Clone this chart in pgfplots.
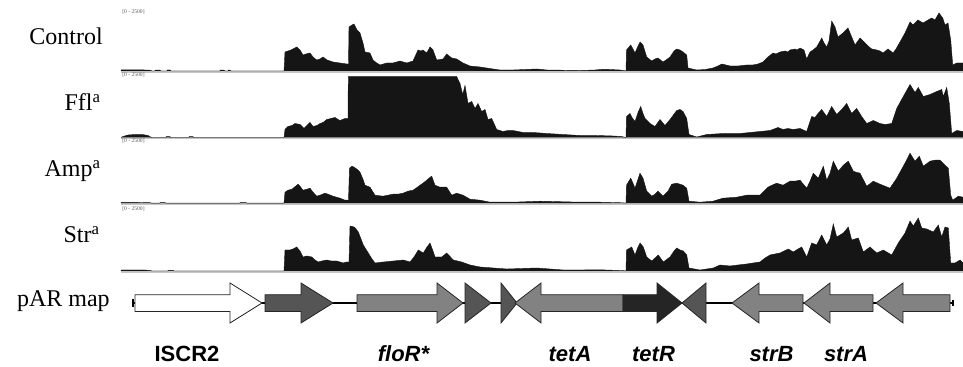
\documentclass[border=0pt]{standalone}
\usepackage{pgfplots}
\usepackage{pgfplotstable}
\pgfplotsset{compat=1.18}
\usepackage{fontspec}
\setmainfont{Liberation Serif}
\newfontfamily\arial{Liberation Sans}
\definecolor{cov}{HTML}{151515}
\definecolor{base}{HTML}{C4C4C4}
\definecolor{gdark}{HTML}{555555}
\definecolor{gmid}{HTML}{828282}
\definecolor{gblack}{HTML}{252525}

% coverage tracks: x = horizontal pixel position, h = depth (62 = 2500)
\pgfplotstableread{
x h
121 0
121 1.2
140 1.2
150 0.8
152 0
155 0
155 0.8
160 0.8
161 0
167 0
167 1
170 1
171 0
220 0
220 0.8
224 0.8
225 0
228 0
228 0.8
230 0.8
231 0
284 0
285 19
288 20
291 21
296.7 24
300 21
303 16
306 17
310 18
313 14
316.7 11
320 12
323 14
327 11
333 9
340 8
346.7 7
348.5 7
349 44
352 46
354 47
357 41
360 38
363 28
365 19
370 18
373 11
376.7 8
380 6
386.7 8
393 8
400 10
406.7 8
413 10
418 21
421 20
423 21
426.7 18
430 24
433 21
436.7 11
443 12
446.7 17
451.7 13
456.7 12
463 8
470 5
480 4
493 2
500 1
513 1
536.7 2
546.7 1
580 0.5
595 1
603 1.7
610 1.5
620 1
624 0.4
626 0
626.5 21
630.7 26
633 22
635 18
638 25
640 29
643 26
646.7 14
651.7 10
655 12
658 13
663 9
666 11
670 14
674 20
676.7 22
680 21
683 19
686.7 16
688 3
696.7 1
705 1.5
713 3
718 5
721.7 7
726 6
730 5
738 5
746.7 6
753 6
758 7
763 9
768 14
773 18
776 17
780 19
785 20
788 19
790 21
795 22
797 21
800 23
804 21
806.7 12
810 19
813 21
816.7 24
821.7 33
824 28
826.7 24
829 30
831.7 50
835 44
838 34
843 38
848 43
851.7 34
855 26
860 33
865 28
868 25
871.7 22
876.7 21
880 20
883 18
888 22
893 18
896 22
900 29
905 38
910 49
913 46
918 51
923 48
928 51
931.7 53
935 51
939 58
942.7 53
945 46
948 48
950.7 31
952.7 6
956.7 8
960 8
963 8
963 0
}\ctrl

\pgfplotstableread{
x h
121 0
123 1
128 2.5
135 3
142 3
148 2
150 0.8
152 0
166 0
166 0.8
170 0.8
171 0
189 0
189 0.8
193 0.8
194 0
284 0
285 8
288 11
292 12
295 14
300 13
304 9
307 12
310 15
313 11
317 12
320 14
323 15
326.7 18
331 19
335 20
338 18
340 17
345 19
348 19
348.3 61
456.7 61
458 58
460 54
462.7 43
465 52
468 34
471.7 36
475 29
478 34
481.7 26
485 28
488 18
491.7 19
496.7 8
503 6
508 7
513 7
518 6
523 5
533 5
540 4.5
546.7 4
555 3.5
563 3
580 2
596.7 2
613 1.5
621.7 1
624 0.4
626 0
626.5 21
630 24
632 20
635 16
638 25
640.7 31
643 24
645 19
650 14
655 11
660 18
665 12
670 18
673 22
676.7 27
680 28
683 26
686.7 19
689 3
696.7 0.5
706.7 3
715 3.5
723 4
730 4
740 4
750 5
760 6
770 7
778 10
783 8
788 9
793 8
800 9
806.7 6
811.7 21
815 20
818 24
821.7 28
826.7 21
831.7 31
836.7 23
841.7 28
846.7 34
851.7 24
856.7 29
861.7 21
866.7 14
873.3 17
880 14
885 13
891.7 14
896.7 29
903.3 41
910 53
915 45
918.3 50
923.3 41
930 43
936.7 46
941.7 48
943.3 41
946.7 50
949.3 34
951.7 4
956.7 7
963 6
963 0
}\ffl

\pgfplotstableread{
x h
121 0
121 0.8
135 0.8
150 0.5
152 0
160 0
160 0.6
165 0.6
166 0
240 0
240 0.6
246 0.6
247 0
284 0
285 11
288 13
292 14
298 19
300 17
303 13
307 14
310 15
313 11
316.7 7
320 8
325 10
328 9
333 7
340 5
345 3
348.5 3
349.5 35
352 37
354 36
357 34
360 31
363 24
365 18
370 16
375 8
383 7
388 8
393 9
398 9
403 10
408 12
413 13
416 15
420 18
423 20
426.7 23
429 25
431.7 27
435 18
440 16
446.7 16
451.7 8
456.7 10
463 8
470 4
480 3
490 1
513 1
540 2
580 1
600 1
620 0.5
624 0.3
626 0
626.5 18
630.7 25
633 20
635 15
638 24
640 30
643 25
646.7 12
651.7 7
655 9
658 12
663 7
668 12
671.7 19
676.7 20
680 19
683 18
686.7 15
689 2
700 1
713 2
723 5
736.7 6
746.7 8
760 8
764 12
768 16
772 18
776.7 20
783 18
790 22
795 22
800 23
806.7 15
810 22
813.3 30
818.3 25
823.3 37
826.7 23
830 30
833.3 42
838.3 32
843.3 38
848.3 42
853.3 32
856 31
860 30
866.7 17
873.3 22
880 19
885 17
890 15
896.7 25
903.3 37
906 42
910 50
915 42
919.3 47
923.3 37
930 42
935 43
940 43
945 38
948.3 35
950.7 8
952.7 3
958.3 7
963 6
963 0
}\amp

\pgfplotstableread{
x h
121 0
121 1
145 1
150 0.5
152 0
168 0
168 0.6
173 0.6
174 0
284 0
285 21
290 21
293 22
296.7 24
300 20
303 14
307 15
311.7 14
315 11
318.3 9
322 10
326.7 11
331 10
336.7 10
343.3 8
346.7 9
349 9
350 45
354 44
356 42
358.3 39
363.3 26
368.3 18
372 12
375 8
383.3 9
393.3 10
403.3 11
410 9
414 14
418.3 21
423.3 18
427 24
430 28
433 20
435 14
441.7 14
446.7 18
453.3 11
461.7 9
470 6
480 4
493.3 3
506.7 2
536.7 3
563.3 1
580 1
600 1.2
620 0.5
624 0.3
626 0
626.5 21
631.7 24
635 16
638 24
640 28
643.3 24
646.7 14
651.7 10
655 13
658.3 16
663.3 9
670 14
674 20
676.7 23
680 21
683.3 20
686.7 16
689 3
700 1
713.3 3
720 6
730 5
738 6
746.7 7
753 8
760 9
765 13
770 16
775 17
780 18
788.3 22
793.3 19
798 22
801.7 24
806.7 14
811.7 28
816.7 26
821.7 36
826.7 26
830 32
833.3 47
836.7 34
843.3 38
848.3 44
851.7 31
858.3 33
863.3 19
870 24
876.7 18
883.3 21
891.7 16
898.3 28
905 38
910 50
913.3 45
918.3 53
921.7 43
926.7 42
933.3 39
938.3 46
941.7 34
945 44
948.3 43
950.7 8
955 8
960 11
963 8
963 0
}\str

\begin{document}
\begin{tikzpicture}
\begin{axis}[
  width=722.25pt, height=275.25pt, scale only axis,
  xmin=0, xmax=963, ymin=-367, ymax=0,
  hide axis, clip=false,
]
% baselines
\addplot[base, line width=1.2pt, mark=none] coordinates {(121,-71.8) (963,-71.8)};
\addplot[base, line width=1.2pt, mark=none] coordinates {(121,-138.3) (963,-138.3)};
\addplot[base, line width=1.2pt, mark=none] coordinates {(121,-204) (963,-204)};
\addplot[base, line width=1.2pt, mark=none] coordinates {(121,-271.8) (963,-271.8)};
% coverage
\addplot[fill=cov, draw=cov, line width=0.3pt, mark=none] table[x=x, y expr=\thisrow{h}-71] {\ctrl};
\addplot[fill=cov, draw=cov, line width=0.3pt, mark=none] table[x=x, y expr=\thisrow{h}-137.5] {\ffl};
\addplot[fill=cov, draw=cov, line width=0.3pt, mark=none] table[x=x, y expr=\thisrow{h}-203.2] {\amp};
\addplot[fill=cov, draw=cov, line width=0.3pt, mark=none] table[x=x, y expr=\thisrow{h}-271] {\str};
% scale labels
\node[anchor=west, font=\fontsize{4.2}{5}\selectfont, text=black!65, inner sep=0pt] at (axis cs:122,-11.7) {[0 - 2500]};
\node[anchor=west, font=\fontsize{4.2}{5}\selectfont, text=black!65, inner sep=0pt] at (axis cs:122,-75) {[0 - 2500]};
\node[anchor=west, font=\fontsize{4.2}{5}\selectfont, text=black!65, inner sep=0pt] at (axis cs:122,-141.3) {[0 - 2500]};
\node[anchor=west, font=\fontsize{4.2}{5}\selectfont, text=black!65, inner sep=0pt] at (axis cs:122,-208.5) {[0 - 2500]};
% track names
\node[anchor=base east, font=\fontsize{18}{20}\selectfont, inner sep=0pt] at (axis cs:103,-45) {Control};
\node[anchor=base east, font=\fontsize{18}{20}\selectfont, inner sep=0pt] at (axis cs:101,-111) {Ffl\textsuperscript{a}};
\node[anchor=base east, font=\fontsize{18}{20}\selectfont, inner sep=0pt] at (axis cs:101,-177) {Amp\textsuperscript{a}};
\node[anchor=base east, font=\fontsize{18}{20}\selectfont, inner sep=0pt] at (axis cs:100,-243) {Str\textsuperscript{a}};
\node[anchor=base east, font=\fontsize{18}{20}\selectfont, inner sep=0pt] at (axis cs:110,-307) {pAR map};
% map backbone
\addplot[black, line width=1.3pt, mark=none] coordinates {(133,-303) (953,-303)};
\addplot[black, line width=1pt, mark=none] coordinates {(133,-299) (133,-307)};
\addplot[black, line width=1pt, mark=none] coordinates {(953,-300) (953,-306)};
% genes
\addplot[fill=white, draw=black!85, line width=0.6pt, mark=none] coordinates {(135,-294.7) (230,-294.7) (230,-283) (262,-303) (230,-323) (230,-311.5) (135,-311.5)} --cycle;
\addplot[fill=gdark, draw=black!85, line width=0.6pt, mark=none] coordinates {(265,-294.7) (301,-294.7) (301,-283) (333,-303) (301,-323) (301,-311.5) (265,-311.5)} --cycle;
\addplot[fill=gmid, draw=black!85, line width=0.6pt, mark=none] coordinates {(357,-294.7) (437,-294.7) (437,-283) (463,-303) (437,-323) (437,-311.5) (357,-311.5)} --cycle;
\addplot[fill=gdark, draw=black!85, line width=0.6pt, mark=none] coordinates {(465,-283) (491,-303) (465,-323)} --cycle;
\addplot[fill=gdark, draw=black!85, line width=0.6pt, mark=none] coordinates {(501,-283) (517,-303) (501,-323)} --cycle;
\addplot[fill=gmid, draw=black!85, line width=0.6pt, mark=none] coordinates {(623,-294.7) (541,-294.7) (541,-283) (515,-303) (541,-323) (541,-311.5) (623,-311.5)} --cycle;
\addplot[fill=gblack, draw=black!85, line width=0.6pt, mark=none] coordinates {(623,-294.7) (657,-294.7) (657,-283) (682,-303) (657,-323) (657,-311.5) (623,-311.5)} --cycle;
\addplot[fill=gdark, draw=black!85, line width=0.6pt, mark=none] coordinates {(706,-283) (682,-303) (706,-323)} --cycle;
\addplot[fill=gmid, draw=black!85, line width=0.6pt, mark=none] coordinates {(803,-294.7) (759,-294.7) (759,-283) (732,-303) (759,-323) (759,-311.5) (803,-311.5)} --cycle;
\addplot[fill=gmid, draw=black!85, line width=0.6pt, mark=none] coordinates {(873,-294.7) (830,-294.7) (830,-283) (804,-303) (830,-323) (830,-311.5) (873,-311.5)} --cycle;
\addplot[fill=gmid, draw=black!85, line width=0.6pt, mark=none] coordinates {(950,-294.7) (903,-294.7) (903,-283) (876,-303) (903,-323) (903,-311.5) (950,-311.5)} --cycle;
% gene names
\node[anchor=base, font=\arial\bfseries\fontsize{16.5}{18}\selectfont, inner sep=0pt] at (axis cs:187,-362) {ISCR2};
\node[anchor=base, font=\arial\bfseries\itshape\fontsize{16.5}{18}\selectfont, inner sep=0pt] at (axis cs:403.5,-362) {floR*};
\node[anchor=base, font=\arial\bfseries\itshape\fontsize{16.5}{18}\selectfont, inner sep=0pt] at (axis cs:570,-362) {tetA};
\node[anchor=base, font=\arial\bfseries\itshape\fontsize{16.5}{18}\selectfont, inner sep=0pt] at (axis cs:653.5,-362) {tetR};
\node[anchor=base, font=\arial\bfseries\itshape\fontsize{16.5}{18}\selectfont, inner sep=0pt] at (axis cs:771.5,-362) {strB};
\node[anchor=base, font=\arial\bfseries\itshape\fontsize{16.5}{18}\selectfont, inner sep=0pt] at (axis cs:846,-362) {strA};
\end{axis}
\pgfresetboundingbox
\path (current axis.south west) rectangle (current axis.north east);
\end{tikzpicture}
\end{document}
